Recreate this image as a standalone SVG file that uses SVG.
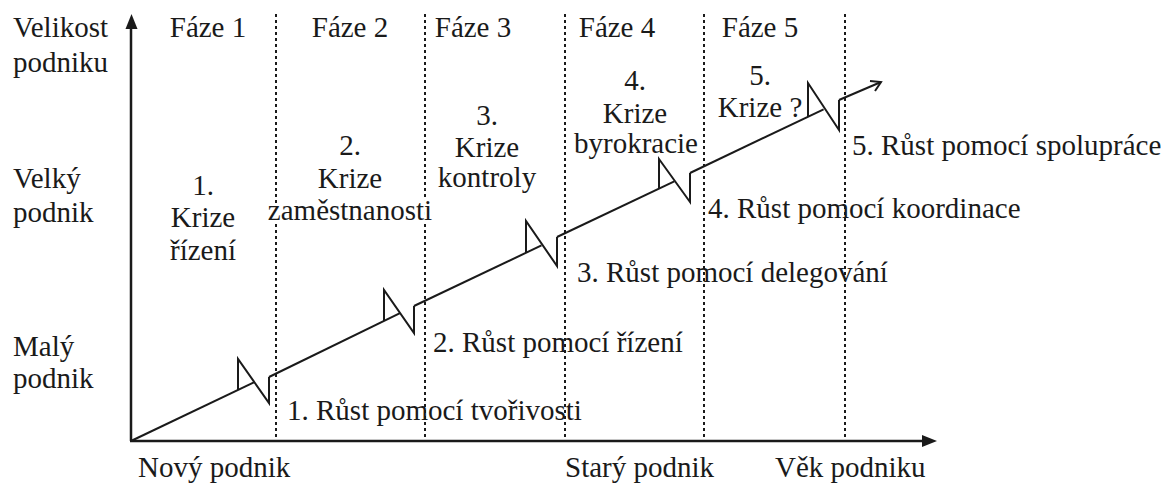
<svg xmlns="http://www.w3.org/2000/svg" width="1170" height="484" viewBox="0 0 1170 484">
  <style>
    text { font-family: "Liberation Serif", "Times New Roman", "DejaVu Serif", serif; font-size: 29px; fill: #1a1a1a; }
    .c { text-anchor: middle; }
    .axis { stroke: #1a1a1a; stroke-width: 2.5; fill: none; }
    .phase { stroke: #1a1a1a; stroke-width: 2; stroke-dasharray: 3 3; fill: none; }
    .growth { stroke: #1a1a1a; stroke-width: 2; fill: none; stroke-linejoin: miter; }
    .halo { stroke: #ffffff; stroke-width: 6; paint-order: stroke; }
  </style>

  <rect width="1170" height="484" fill="#ffffff"/>

  <!-- axes -->
  <g id="axes">
    <line class="axis" x1="131" y1="441" x2="131" y2="26"/>
    <polygon points="131.5,14 125.5,29 137.5,29" fill="#1a1a1a"/>
    <line class="axis" x1="130" y1="441" x2="924" y2="441"/>
    <polygon points="937,441 922,435 922,447" fill="#1a1a1a"/>
  </g>

  <!-- phase boundaries -->
  <g id="phase-lines">
    <line class="phase" x1="276" y1="14" x2="276" y2="441"/>
    <line class="phase" x1="425" y1="14" x2="425" y2="441"/>
    <line class="phase" x1="565" y1="14" x2="565" y2="441"/>
    <line class="phase" x1="704" y1="14" x2="704" y2="441"/>
    <line class="phase" x1="845" y1="14" x2="845" y2="441"/>
  </g>

  <!-- growth line with crisis breaks -->
  <g id="connectors">
    <!-- evolution 1 + crisis 1 -->
    <polyline class="growth" points="131,441 254.4,382.2"/>
    <polyline class="growth" points="238,390 238,359 269,403 269,377"/>
    <!-- evolution 2 + crisis 2 -->
    <polyline class="growth" points="269,377 400,313.2"/>
    <polyline class="growth" points="384,321 384,290 414,333 414,306"/>
    <!-- evolution 3 + crisis 3 -->
    <polyline class="growth" points="414,306 541.5,245.4"/>
    <polyline class="growth" points="526,253 526,221 557,266 557,237"/>
    <!-- evolution 4 + crisis 4 -->
    <polyline class="growth" points="557,237 674.3,181.4"/>
    <polyline class="growth" points="659,189 659,159 690,202 690,173"/>
    <!-- evolution 5 + crisis 5 -->
    <polyline class="growth" points="690,173 823.6,109.3"/>
    <polyline class="growth" points="808,117 808,83 839,130 839,100"/>
    <!-- evolution 6 with open arrowhead -->
    <polyline class="growth" points="839,100 881,82"/>
    <polyline class="growth" points="870,81 881,82 875,91"/>
  </g>

  <g font-family="Liberation Serif, Times New Roman, serif">
    <!-- axis labels -->
    <g id="y-labels">
      <text x="13" y="37">Velikost</text>
      <text x="13" y="72">podniku</text>
      <text x="13" y="188">Velký</text>
      <text x="13" y="222">podnik</text>
      <text x="13" y="356">Malý</text>
      <text x="13" y="388">podnik</text>
    </g>
    <g id="x-labels">
      <text x="138" y="477">Nový podnik</text>
      <text x="565" y="477">Starý podnik</text>
      <text x="775" y="477">Věk podniku</text>
    </g>

    <!-- phase headings -->
    <g id="phases">
      <text class="c" x="208" y="37">Fáze 1</text>
      <text class="c" x="350" y="37">Fáze 2</text>
      <text class="c" x="473" y="37">Fáze 3</text>
      <text class="c" x="617" y="37">Fáze 4</text>
      <text class="c" x="760" y="37">Fáze 5</text>
    </g>

    <!-- crises -->
    <g id="crisis-1">
      <text class="c" x="203" y="195">1.</text>
      <text class="c" x="203" y="227">Krize</text>
      <text class="c" x="203" y="260">řízení</text>
    </g>
    <g id="crisis-2">
      <text class="c" x="350" y="155">2.</text>
      <text class="c" x="350" y="188">Krize</text>
      <text class="c halo" x="350" y="220">zaměstnanosti</text>
    </g>
    <g id="crisis-3">
      <text class="c" x="487" y="125">3.</text>
      <text class="c" x="487" y="157">Krize</text>
      <text class="c" x="487" y="187">kontroly</text>
    </g>
    <g id="crisis-4">
      <text class="c" x="635" y="90">4.</text>
      <text class="c" x="635" y="123">Krize</text>
      <text class="c" x="636" y="153">byrokracie</text>
    </g>
    <g id="crisis-5">
      <text class="c" x="760" y="85">5.</text>
      <text class="c" x="760" y="117">Krize ?</text>
    </g>

    <!-- growth stages -->
    <g id="growth-1"><text x="287" y="420">1. Růst pomocí tvořivosti</text></g>
    <g id="growth-2"><text x="433" y="352">2. Růst pomocí řízení</text></g>
    <g id="growth-3"><text x="577" y="282">3. Růst pomocí delegování</text></g>
    <g id="growth-4"><text x="708" y="218">4. Růst pomocí koordinace</text></g>
    <g id="growth-5"><text x="852" y="155">5. Růst pomocí spolupráce</text></g>
  </g>
</svg>
